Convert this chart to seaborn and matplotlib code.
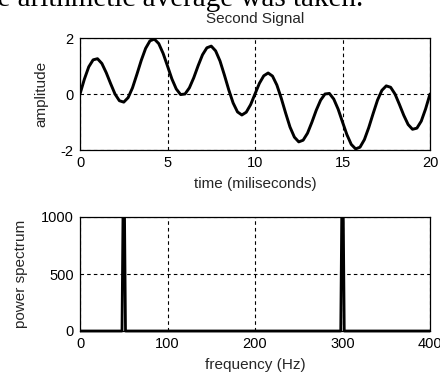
import matplotlib
matplotlib.use("Agg")
import matplotlib.pyplot as plt
import seaborn as sns
import numpy as np
import pandas as pd
from matplotlib.transforms import Bbox, TransformedBbox

# ---------------- data ----------------
time_ms = [i * 0.25 for i in range(81)]
amplitude = [
    0.00, 0.53, 0.97, 1.22, 1.26, 1.09, 0.76, 0.37, 0.00, -0.24,
    -0.29, -0.13, 0.22, 0.70, 1.20, 1.63, 1.90, 1.96, 1.80, 1.45,
    1.00, 0.54, 0.18, -0.02, 0.00, 0.22, 0.58, 1.01, 1.40, 1.65,
    1.71, 1.54, 1.18, 0.68, 0.15, -0.32, -0.64, -0.75, -0.65, -0.38,
    0.00, 0.38, 0.65, 0.75, 0.64, 0.32, -0.15, -0.68, -1.18, -1.54,
    -1.71, -1.65, -1.40, -1.01, -0.58, -0.22, 0.00, 0.02, -0.18, -0.54,
    -1.00, -1.45, -1.80, -1.96, -1.90, -1.63, -1.20, -0.70, -0.22, 0.13,
    0.29, 0.24, 0.00, -0.37, -0.76, -1.09, -1.26, -1.22, -0.97, -0.53,
    0.00,
]

freq_hz = [0, 48, 50, 52, 298, 300, 302, 400]
power = [0, 0, 1800, 0, 0, 1800, 0, 0]

top_xticks = [0, 5, 10, 15, 20]
top_yticks = [-2, 0, 2]
bot_xticks = [0, 100, 200, 300, 400]
bot_yticks = [0, 500, 1000]

header_text = "the arithmetic average was taken."
title_text = "Second Signal"

# ---------------- style ----------------
sns.set_style("white")
plt.rcParams["font.family"] = ["Liberation Sans", "DejaVu Sans"]
plt.rcParams["axes.unicode_minus"] = False

W, H = 440, 374
fig = plt.figure(figsize=(W / 100, H / 100), dpi=100)

def px_axes(left, top, right, bottom):
    return fig.add_axes([left / W, 1 - bottom / H, (right - left) / W, (bottom - top) / H])

ax1 = px_axes(80, 38, 430, 150)
ax2 = px_axes(80, 217, 430, 331)

grid_kw = dict(color="black", linewidth=0.8, linestyle=(0, (3.2, 2.8)))

def style_axes(ax):
    for s in ax.spines.values():
        s.set_color("black")
        s.set_linewidth(0.9)
        s.set_visible(True)
    ax.tick_params(direction="in", length=2, width=0.8, pad=4.5,
                   labelsize=10.5, colors="black")
    ax.set_axisbelow(True)
    ax.grid(True, **grid_kw)

# ---------------- top plot ----------------
df1 = pd.DataFrame({"t": time_ms, "a": amplitude})
sns.lineplot(data=df1, x="t", y="a", ax=ax1, color="black", linewidth=2.1, sort=False)
ax1.set_xlim(0, 20)
ax1.set_ylim(-2, 2)
ax1.set_xticks(top_xticks)
ax1.set_yticks(top_yticks)
style_axes(ax1)
ax1.set_xlabel("time (miliseconds)", fontsize=11, labelpad=5)
ax1.set_ylabel("amplitude", fontsize=11, labelpad=9)
ax1.set_title(title_text, fontsize=11, pad=11)

# ---------------- bottom plot ----------------
df2 = pd.DataFrame({"f": freq_hz, "p": power})
sns.lineplot(data=df2, x="f", y="p", ax=ax2, color="black", linewidth=2.0, sort=False)
ax2.set_xlim(0, 400)
ax2.set_ylim(0, 1000)
ax2.set_xticks(bot_xticks)
ax2.set_yticks(bot_yticks)
style_axes(ax2)
ax2.set_xlabel("frequency (Hz)", fontsize=11, labelpad=5)
ax2.set_ylabel("power spectrum", fontsize=11, labelpad=9)

# let the spectrum baseline show at full width below the bottom edge
line = ax2.lines[-1]
line.set_clip_path(None)
line.set_clip_box(TransformedBbox(Bbox([[0, -0.04], [1, 1]]), ax2.transAxes))

# ---------------- header fragment ----------------
fig.text(363 / W, 1 - 6.5 / H, header_text, ha="right", va="baseline",
         fontsize=21, family=["Liberation Serif", "DejaVu Serif"], color="black")

fig.savefig("out.png", dpi=100)
